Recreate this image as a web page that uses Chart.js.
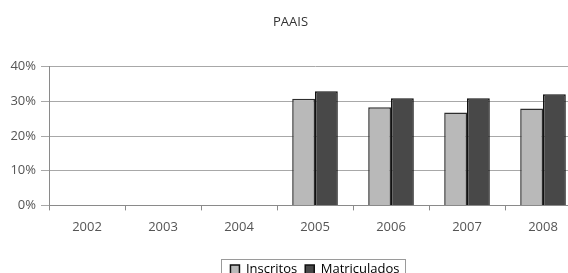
<!DOCTYPE html>
<html>
<head>
<meta charset="utf-8">
<script src="https://cdn.jsdelivr.net/npm/chart.js@4/dist/chart.umd.min.js"></script>
<style>
  html, body { margin: 0; padding: 0; background: #fff; overflow: hidden; }
  #wrap { width: 582px; height: 273px; }
</style>
</head>
<body>
<div id="wrap"><canvas id="chartPaais"></canvas></div>
<script>
const years = ['2002', '2003', '2004', '2005', '2006', '2007', '2008'];
const inscritos = [null, null, null, 30.7, 28.3, 26.8, 27.9];
const matriculados = [null, null, null, 32.9, 30.9, 30.9, 32.0];
const yTicks = [0, 10, 20, 30, 40];

const font = { family: "'Open Sans', sans-serif", size: 13 };

// legend box with a thin border, centred on the plot area
const legendBox = {
  id: 'legendBox',
  afterLayout(chart) {
    const lg = chart.legend;
    const mid = (chart.chartArea.left + chart.chartArea.right) / 2;
    const shift = mid - (lg.left + lg.right) / 2;
    lg.left += shift;
    lg.right += shift;
  },
  afterDraw(chart) {
    const boxes = chart.legend.legendHitBoxes;
    if (!boxes.length) return;
    const ctx = chart.ctx;
    let l = Math.min(...boxes.map((b) => b.left)) - 9;
    let r = Math.max(...boxes.map((b) => b.left + b.width)) + 6;
    let t = boxes[0].top - 4;
    ctx.save();
    ctx.strokeStyle = '#9a9a9a';
    ctx.lineWidth = 1;
    ctx.strokeRect(Math.round(l) + 0.5, Math.round(t) + 0.5, Math.round(r - l), 30);
    ctx.restore();
  },
};

const ctx = document.getElementById('chartPaais').getContext('2d');
const chartPaais = new Chart(ctx, {
  type: 'bar',
  data: {
    labels: years,
    datasets: [
      {
        label: 'Inscritos',
        data: inscritos,
        backgroundColor: '#b9b9b9',
        borderColor: '#2e2e2e',
        borderWidth: 1.5,
      },
      {
        label: 'Matriculados',
        data: matriculados,
        backgroundColor: '#484848',
        borderColor: '#111',
        borderWidth: 1.5,
      },
    ],
  },
  options: {
    responsive: true,
    maintainAspectRatio: false,
    animation: false,
    datasets: { bar: { categoryPercentage: 0.6, barPercentage: 1 } },
    layout: { padding: { left: 0, right: 1, top: 0, bottom: -13 } },
    plugins: {
      tooltip: { enabled: false },
      title: {
        display: true,
        text: 'PAAIS',
        color: '#333',
        font: { family: font.family, size: 13, weight: 'normal' },
        padding: { top: 14, bottom: 37 },
      },
      legend: {
        position: 'bottom',
        labels: {
          color: '#333',
          font: { family: font.family, size: 13 },
          boxWidth: 9,
          boxHeight: 9,
          padding: 8,
          generateLabels(chart) {
            return chart.data.datasets.map((d, i) => ({
              text: d.label,
              fillStyle: d.backgroundColor,
              strokeStyle: '#111',
              lineWidth: 1.5,
              datasetIndex: i,
            }));
          },
        },
      },
    },
    scales: {
      x: {
        afterFit(axis) {
          axis.height += 11;
        },
        grid: {
          offset: true,
          drawOnChartArea: false,
          color: '#8a8a8a',
          tickLength: 5,
        },
        border: { color: '#8a8a8a' },
        ticks: { color: '#555', font: font, padding: 9, maxRotation: 0 },
      },
      y: {
        min: 0,
        max: 40,
        afterFit(axis) {
          axis.width = 49;
        },
        afterBuildTicks(axis) {
          axis.ticks = yTicks.map((v) => ({ value: v }));
        },
        grid: { color: '#a8a8a8', tickLength: 8 },
        border: { color: '#8a8a8a' },
        ticks: {
          color: '#555',
          font: font,
          padding: 5,
          callback: (v) => v + '%',
        },
      },
    },
  },
  plugins: [legendBox],
});
</script>
</body>
</html>
